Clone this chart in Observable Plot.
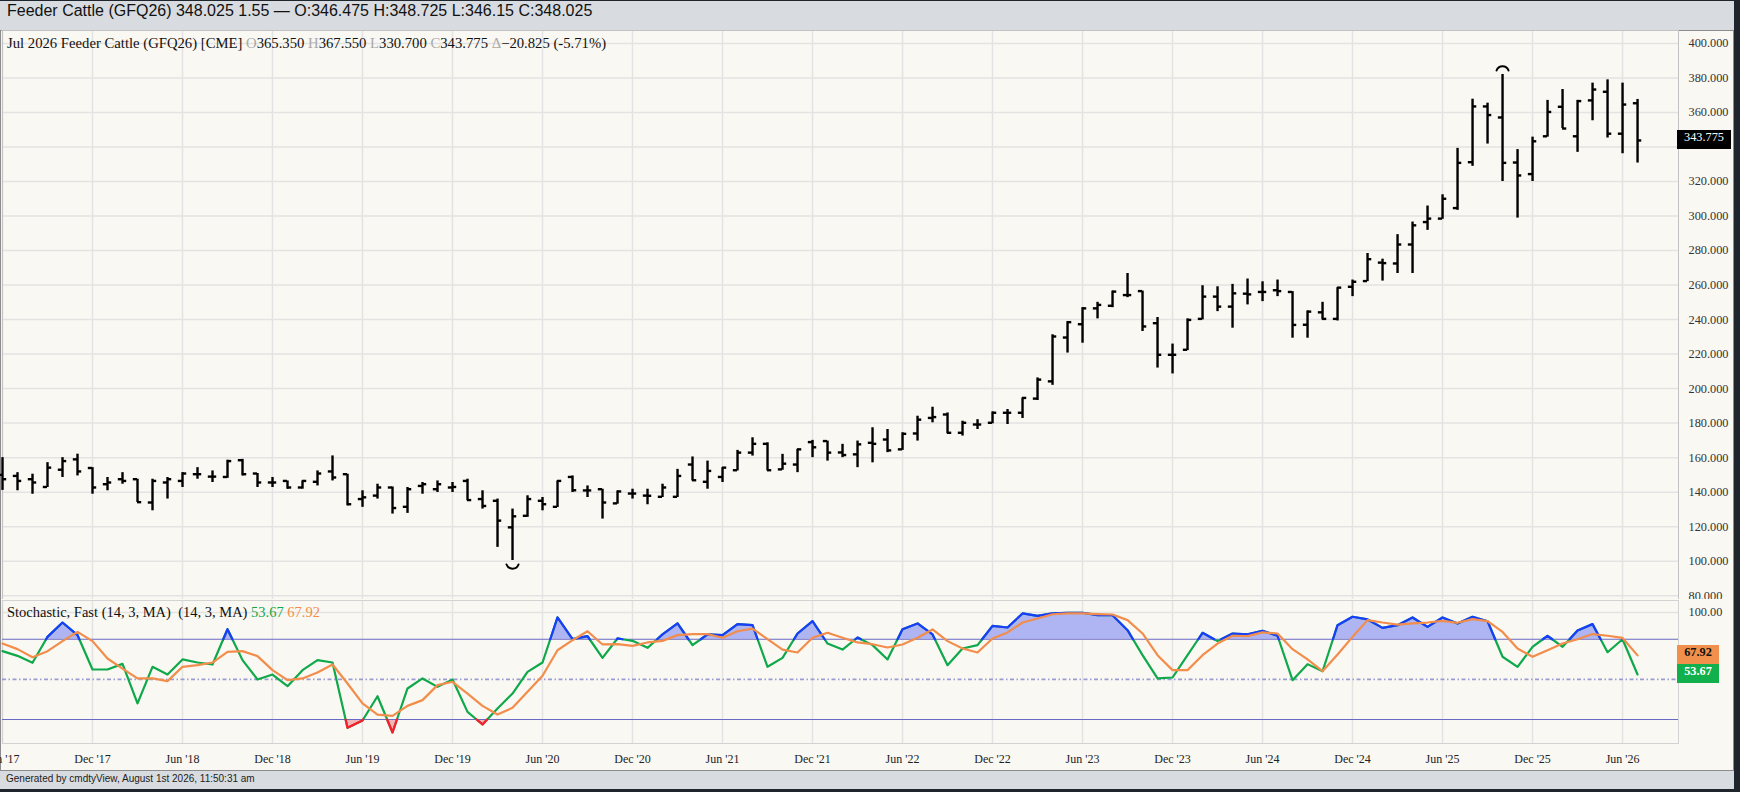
<!DOCTYPE html>
<html><head><meta charset="utf-8">
<script src="https://cdn.jsdelivr.net/npm/d3@7"></script>
<script src="https://cdn.jsdelivr.net/npm/@observablehq/plot@0.6"></script>
<style>
html,body{margin:0;padding:0;}
body{width:1740px;height:792px;background:#1e252d;position:relative;overflow:hidden;}
#frame{position:absolute;left:0;top:1px;width:1734px;height:788px;background:#d8dce0;}
#header{position:absolute;left:7px;top:2px;height:28px;line-height:28px;font:16px "Liberation Sans",Arial,sans-serif;color:#111;white-space:pre;}
#chart{position:absolute;left:0;top:30px;width:1734px;height:741px;background:#faf8f2;border:1px solid #8c8c8c;box-sizing:border-box;}
.svgbox{position:absolute;left:0;}
.svgbox svg{background:transparent;}
#title{position:absolute;left:7px;top:35px;font:14.7px "Liberation Serif","Times New Roman",serif;color:#111;white-space:pre;}
#stochLegend{position:absolute;left:7px;top:604px;font:14.5px "Liberation Serif","Times New Roman",serif;color:#111;white-space:pre;}
.g{color:#a9a9a9}
#footer{position:absolute;left:6px;top:773px;font:10px "Liberation Sans",Arial,sans-serif;color:#222;white-space:pre;}
.tag{position:absolute;left:1677px;height:19px;line-height:19px;font:12.3px "Liberation Serif","Times New Roman",serif;text-align:center;}
</style>
</head>
<body>
<div id="frame"></div>
<div id="header">Feeder Cattle (GFQ26) 348.025 1.55 — O:346.475 H:348.725 L:346.15 C:348.025</div>
<div id="chart"></div>
<div id="priceBox" class="svgbox" style="top:30px"></div>
<div id="stochBox" class="svgbox" style="top:600px"></div>
<div id="title"></div>
<div id="stochLegend"></div>
<div id="footer">Generated by cmdtyView, August 1st 2026, 11:50:31 am</div>
<script>
// ---- Data: monthly bars Jun 2017 .. Jul 2026 (index 0 = Jun 2017) ----
const open = [150,149.4,147.5,143,153,159,154,144.6,147.5,147.5,
134,145.6,146.5,150.4,149,148.8,158.5,150.8,145.6,146.5,
142.7,146,152,150.4,136,138,142.7,131.5,143.6,141.7,
142.7,146.5,136,135,119.6,126.3,135,131.5,148.8,141,
141.7,133.5,139.2,138,137.3,137.3,156,146,148.8,152.7,
162.9,168,153.2,156,169,169.6,163,161.9,168.6,170.5,
164.8,174,183,185,174.4,179.2,180.2,186,186,194.2,
204.2,229.6,237.3,246.5,248,254.2,256.5,237.9,219.6,222.5,
240.4,253.3,247.5,255,256,257,256,237,244.2,240.4,
259,262.3,273,272.5,283.5,296.5,298.5,304.6,331.2,363.5,
357.1,331,324.3,346.2,363.3,346.2,367,372,347.7,365.35];
const high = [160,151.3,150.4,157.1,160,162,154.2,148.5,151.3,147.5,
147.5,148.5,151.3,154.2,152.3,158.5,159,150.8,148.5,146.5,
146.5,152.3,161,150.4,140.8,144.6,143,142.7,145.6,146.5,
145.6,147.5,140.8,136,130.2,137.9,136.9,146.5,149.4,143.6,
141.7,140.7,141.7,141.7,144.6,153.2,160.4,158,154.2,164.2,
171.5,168.6,161.9,164.8,170,169.6,167.7,169.6,177.3,176.3,
174.4,184,189.2,185.9,181.1,182,186.5,187.9,194.6,206.2,
231.2,238.8,246.9,250,256.5,266.7,256.5,241.2,225.8,240.4,
259.6,259,260.4,263.5,261.9,262.9,256.2,245,250,258.5,
262.9,278.3,275,289.2,296.5,305.8,312.3,339.2,367.7,365.4,
382,338.5,345.7,367,373.3,367,377,378.9,377,367.55];
const low = [141,140.8,138.8,142.7,148.5,149.4,138.8,140.8,144.6,134,
129.2,136,142.7,147.5,145.6,148,149.4,142.7,142.7,141.7,
141.7,143.6,146.5,132.1,131.2,136,127.3,127.7,138.8,139.8,
139.8,135,130.2,108,100.4,125.4,129.2,131.1,139.8,136.9,
124.4,133,136,132.7,136.9,136.9,146.5,141.7,145.6,152.3,
160.9,152.3,152.7,151.3,160,158,160,154.2,157,162.9,
164.2,169.6,180.2,173.8,172.5,176.3,179.6,179.2,182.7,193.1,
201.9,220.6,226.3,240.4,246.9,252.7,233.1,211.9,208.5,222,
239.8,244.6,235,248.5,250.4,253.3,229.2,229.2,239.8,239.2,
253.3,262,262.3,266.7,266.7,291.7,298.1,303.3,328.8,341.7,
320,298.8,320,345.7,350.7,336.9,355.2,345.2,336.1,330.7];
const close = [147.5,146.5,145.6,154.2,158,152,142.7,145.6,146.5,134.2,
146.5,147.5,150.8,150.4,149,158,150.4,145.6,145.6,142.7,
146.5,150.8,148.5,133,137,142.7,130.8,141.7,144.6,144.6,
143,135.4,132,123.5,126,136,133,146.5,141.1,141,
134,140.4,139.2,137.9,142.7,149.4,146.9,152.3,154.2,162.9,
168,152.7,156.5,164.8,166,162.9,161.5,167.7,168,164.2,
173.8,182,183.5,174.4,180.2,179.2,186,186,194.6,205.2,
230.2,238.5,246.5,248.5,256.2,254.2,236,219.6,219.6,239.8,
253.3,247.5,255.2,254.6,256,256.5,236.9,244.6,240.4,258.5,
261.9,275,272.7,283.5,294.6,298.5,310,330.8,363.5,358.5,
330.8,323.5,343.3,360.3,350.7,366.6,373.3,347.7,364.6,343.775];
// Stochastic fast %K and %D
const stochK = [71.1,67.6,62.4,81.8,92.5,83.1,57.4,57.4,61.6,32,
59.4,53.6,64.9,62.6,61.1,87.5,64.4,49.9,53.6,44.9,
56.9,64.4,62.6,13.8,19.3,37.4,10.3,43.2,50.7,44.4,
49.9,25.7,16.3,28.2,39.4,55.6,62.6,96.3,80.1,82.3,
66.1,80.6,78.8,73.6,83.6,91.8,75.6,83.6,83.1,91.3,
90.5,59.4,66.1,84.3,93.5,76.8,72.3,81.3,75.6,64.9,
87.5,91.8,83.6,60.6,73.1,75.6,90,88.8,99.3,97.5,
99.3,99.8,99.8,98,98,86.8,68.1,50.7,51.4,68.1,
84.8,78.6,84.3,83.6,86.3,82.6,49.4,61.4,56.1,90.5,
96.8,94.8,88.5,90.5,96.3,89.3,96.3,91.8,96.8,93.5,
66.9,59.4,74.3,82.6,74.3,86.5,91.3,70.3,80,53.67];
const stochD = [76.8,72.6,66.6,71.1,78.6,85.5,78.6,65.6,58.1,50.7,
50.7,48.7,59.4,60.6,62.6,70.6,71.1,67.4,56.9,49.4,
50.7,55.1,61.1,46.9,32,23.7,22.7,30.2,34.5,45.7,
48.2,39.4,30.2,23.7,28.7,40.7,52.7,71.8,79.3,86,
76.1,76.3,75.1,77.6,78.8,83.1,83.8,83.8,81.1,86,
88,80.1,72.3,70.1,81.1,84.8,81.1,77.6,76.3,73.8,
76.1,81.1,87.3,78.6,73.1,70.1,80.6,85.1,92.5,95.5,
98.7,99.3,99.3,98.8,98.5,94.3,84.3,68.1,56.9,56.9,
68.1,76.8,82.6,82.3,85.1,84.3,72.6,64.9,56.1,68.6,
81.8,94.3,92.5,91,91.8,92.5,93.8,92.3,95,93.5,
85.5,73.1,66.9,71.8,76.8,80,83.9,82.6,81,67.92];
// Axis ticks
const tickIdx = [0,6,12,18,24,30,36,42,48,54,60,66,72,78,84,90,96,102,108];
const tickLabels = ["Jun '17","Dec '17","Jun '18","Dec '18","Jun '19","Dec '19","Jun '20","Dec '20","Jun '21","Dec '21","Jun '22","Dec '22","Jun '23","Dec '23","Jun '24","Dec '24","Jun '25","Dec '25","Jun '26"];
const priceTicks = [80,100,120,140,160,180,200,220,240,260,280,300,320,340,360,380,400];
const priceLabelTicks = [80,100,120,140,160,180,200,220,240,260,280,300,320,360,380,400]; // 340 sits under the last-price tag

// ---- Build ----
const n = close.length;
const bars = close.map((c, i) => ({i, open: open[i], high: high[i], low: low[i], close: c}));
const xDomain = [0, 111.73];
const tickLen = 0.28;
const serif = '"Liberation Serif","Times New Roman",serif';
const grid = {stroke: "#e3e3e3", strokeWidth: 1.5};

const hiBar = bars.reduce((a, b) => b.high > a.high ? b : a);
const loBar = bars.reduce((a, b) => b.low < a.low ? b : a);

const price = Plot.plot({
  width: 1733, height: 569,
  marginLeft: 2, marginRight: 55, marginTop: 0, marginBottom: 0,
  x: {domain: xDomain, axis: null},
  y: {domain: [77.8, 407.5], axis: null},
  style: {background: "transparent", fontFamily: serif, color: "#333"},
  marks: [
    Plot.ruleY(priceTicks, grid),
    Plot.ruleX(tickIdx, grid),
    Plot.frame({stroke: "#c2c2c2"}),
    Plot.axisY({anchor: "right", ticks: priceLabelTicks, tickFormat: d3.format(".3f"), tickSize: 0, tickPadding: 10, fontSize: 12.3, fill: "#333"}),
    Plot.ruleX(bars, {x: "i", y1: "low", y2: "high", stroke: "#000", strokeWidth: 2.4}),
    Plot.ruleY(bars, {y: "open", x1: d => d.i - tickLen, x2: "i", stroke: "#000", strokeWidth: 2.4}),
    Plot.ruleY(bars, {y: "close", x1: "i", x2: d => d.i + tickLen, stroke: "#000", strokeWidth: 2.4}),
    Plot.arrow([hiBar], {x1: d => d.i - 0.4, x2: d => d.i + 0.4, y1: "high", y2: "high", bend: 70, headLength: 0, dy: -4, stroke: "#000", strokeWidth: 2}),
    Plot.arrow([loBar], {x1: d => d.i - 0.4, x2: d => d.i + 0.4, y1: "low", y2: "low", bend: -70, headLength: 0, dy: 4, stroke: "#000", strokeWidth: 2})
  ]
});
document.getElementById("priceBox").appendChild(price);

// densify %K with threshold crossings at 20 and 80
const pts = [];
for (let i = 0; i < n; i++) {
  pts.push({x: i, v: stochK[i]});
  if (i < n - 1) {
    const a = stochK[i], b = stochK[i + 1];
    const cr = [];
    for (const t of [20, 80]) {
      if ((a - t) * (b - t) < 0) cr.push({x: i + (t - a) / (b - a), v: t});
    }
    cr.sort((p, q) => p.x - q.x);
    pts.push(...cr);
  }
}
const dLine = stochD.map((d, i) => ({i, d}));

const stoch = Plot.plot({
  width: 1733, height: 170,
  marginLeft: 2, marginRight: 55, marginTop: 0, marginBottom: 27,
  x: {domain: xDomain, axis: null},
  y: {domain: [2.06, 108.97], axis: null},
  style: {background: "transparent", fontFamily: serif, color: "#333"},
  marks: [
    Plot.ruleY([100], grid),
    Plot.ruleX(tickIdx, grid),
    Plot.frame({stroke: "#d2d2d2"}),
    Plot.areaY(pts, {x: "x", y1: () => 80, y2: d => Math.max(d.v, 80), fill: "#aeb5f2"}),
    Plot.areaY(pts, {x: "x", y1: d => Math.min(d.v, 20), y2: () => 20, fill: "#f5b5b8"}),
    Plot.ruleY([80, 20], {stroke: "#6a6ac4", strokeWidth: 1.2}),
    Plot.ruleY([50], {stroke: "#9c9cd4", strokeWidth: 1.6, strokeDasharray: "4,2.5,1.5,2.5"}),
    Plot.line(pts, {x: "x", y: "v", stroke: "#0fa84a", strokeWidth: 2.2}),
    Plot.line(pts, {x: "x", y: d => d.v >= 80 ? d.v : NaN, stroke: "#1a3cff", strokeWidth: 2.2}),
    Plot.line(pts, {x: "x", y: d => d.v <= 20 ? d.v : NaN, stroke: "#ff1a2e", strokeWidth: 2.2}),
    Plot.line(dLine, {x: "i", y: "d", stroke: "#f28d4b", strokeWidth: 2.2}),
    Plot.axisX({anchor: "bottom", ticks: tickIdx, tickFormat: d => tickLabels[tickIdx.indexOf(d)], tickSize: 0, tickPadding: 11, fontSize: 12, fill: "#222"}),
    Plot.axisY({anchor: "right", ticks: [100], tickFormat: d3.format(".2f"), tickSize: 0, tickPadding: 10, fontSize: 12.3, fill: "#333"})
  ]
});
document.getElementById("stochBox").appendChild(stoch);

// Title from last bar
const L = n - 1;
const f3 = d3.format(".3f");
const chg = close[L] - close[L - 1];
document.getElementById("title").innerHTML =
  `Jul 2026 Feeder Cattle (GFQ26) [CME] <span class="g">O</span>${f3(open[L])} <span class="g">H</span>${f3(high[L])} <span class="g">L</span>${f3(low[L])} <span class="g">C</span>${f3(close[L])} <span class="g">Δ</span>${f3(chg)} (${(chg / close[L - 1] * 100).toFixed(2)}%)`;
document.getElementById("stochLegend").innerHTML =
  `Stochastic, Fast (14, 3, MA)  (14, 3, MA) <span style="color:#0fa84a">${stochK[L].toFixed(2)}</span> <span style="color:#f28d4b">${stochD[L].toFixed(2)}</span>`;

// Last-value tags positioned through the plots' scales
function tag(text, yPage, bg, fg, w, bold) {
  const el = document.createElement("div");
  el.className = "tag";
  el.textContent = text;
  el.style.top = (yPage - 9.5) + "px";
  el.style.width = w + "px";
  el.style.background = bg;
  el.style.color = fg;
  if (bold) el.style.fontWeight = "bold";
  document.body.appendChild(el);
}
tag(f3(close[L]), 30 + price.scale("y").apply(close[L]), "#000", "#fff", 54, false);
tag(stochD[L].toFixed(2), 600 + stoch.scale("y").apply(stochD[L]), "#f0904c", "#111", 42, true);
tag(stochK[L].toFixed(2), 600 + stoch.scale("y").apply(stochK[L]), "#12b04c", "#fff", 42, true);
</script>
</body></html>
